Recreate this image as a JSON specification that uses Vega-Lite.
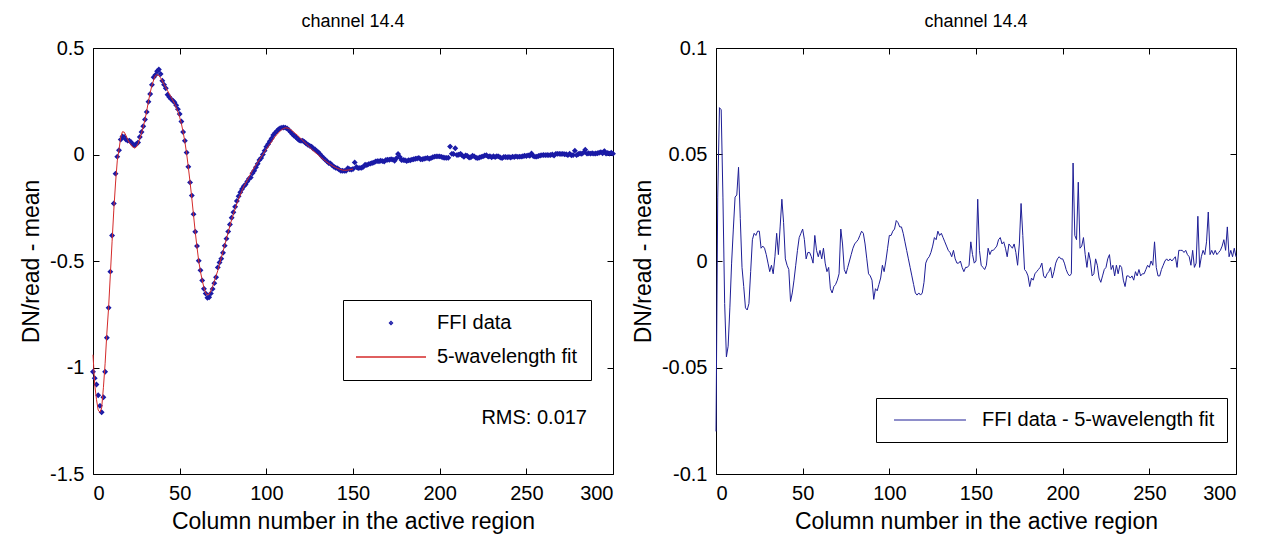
{
  "$schema": "https://vega.github.io/schema/vega-lite/v6.json",
  "autosize": {"type": "pad"},
  "padding": {"left": 20, "top": 12, "right": 5, "bottom": 5},
  "bounds": "flush",
  "spacing": 103,
  "background": "white",
  "resolve": {"scale": {"color": "independent", "shape": "independent"}, "legend": {"color": "independent", "shape": "independent"}},
  "config": {
    "font": "Liberation Sans",
    "view": {"stroke": "black", "strokeWidth": 1},
    "axis": {"domain": false, "grid": false, "tickColor": "black", "tickSize": -6, "tickWidth": 1,
      "labelFontSize": 20, "labelColor": "black", "labelFont": "Liberation Sans", "labelPadding": 15,
      "titleFontSize": 23, "titleFontWeight": "normal", "titleColor": "black", "titleFont": "Liberation Sans"},
    "title": {"fontSize": 18, "fontWeight": "normal", "font": "Liberation Sans", "color": "black", "offset": 7},
    "legend": {"labelFontSize": 20, "labelFont": "Liberation Sans", "labelColor": "black", "strokeColor": "black", "fillColor": "white", "labelLimit": 400, "cornerRadius": 0}
  },
  "datasets": {
    "cols": [
      {"c":0,"dn":-1.02,"fit":-0.94,"r":-0.08},
      {"c":1,"dn":-1.05,"fit":-1.08,"r":0.03},
      {"c":2,"dn":-1.08,"fit":-1.15,"r":0.072},
      {"c":3,"dn":-1.13,"fit":-1.2,"r":0.071},
      {"c":4,"dn":-1.18,"fit":-1.21,"r":0.03},
      {"c":5,"dn":-1.21,"fit":-1.19,"r":-0.02},
      {"c":6,"dn":-1.14,"fit":-1.095,"r":-0.045},
      {"c":7,"dn":-1.02,"fit":-0.98,"r":-0.04},
      {"c":8,"dn":-0.86,"fit":-0.838,"r":-0.022},
      {"c":9,"dn":-0.72,"fit":-0.719,"r":-0.001},
      {"c":10,"dn":-0.55,"fit":-0.565,"r":0.015},
      {"c":11,"dn":-0.38,"fit":-0.41,"r":0.03},
      {"c":12,"dn":-0.23,"fit":-0.261,"r":0.031},
      {"c":13,"dn":-0.09,"fit":-0.134,"r":0.044},
      {"c":14,"dn":-0.01,"fit":-0.03,"r":0.02},
      {"c":15,"dn":0.02,"fit":0.023,"r":-0.003},
      {"c":16,"dn":0.07,"fit":0.082,"r":-0.012},
      {"c":17,"dn":0.085,"fit":0.107,"r":-0.022},
      {"c":18,"dn":0.082,"fit":0.105,"r":-0.023},
      {"c":19,"dn":0.07,"fit":0.09,"r":-0.02},
      {"c":20,"dn":0.065,"fit":0.07,"r":-0.005},
      {"c":21,"dn":0.065,"fit":0.055,"r":0.01},
      {"c":22,"dn":0.058,"fit":0.045,"r":0.013},
      {"c":23,"dn":0.047,"fit":0.035,"r":0.012},
      {"c":24,"dn":0.044,"fit":0.03,"r":0.014},
      {"c":25,"dn":0.049,"fit":0.035,"r":0.014},
      {"c":26,"dn":0.056,"fit":0.05,"r":0.006},
      {"c":27,"dn":0.082,"fit":0.075,"r":0.007},
      {"c":28,"dn":0.106,"fit":0.1,"r":0.006},
      {"c":29,"dn":0.133,"fit":0.13,"r":0.003},
      {"c":30,"dn":0.164,"fit":0.165,"r":-0.001},
      {"c":31,"dn":0.2,"fit":0.205,"r":-0.005},
      {"c":32,"dn":0.248,"fit":0.25,"r":-0.002},
      {"c":33,"dn":0.284,"fit":0.29,"r":-0.006},
      {"c":34,"dn":0.327,"fit":0.325,"r":0.002},
      {"c":35,"dn":0.363,"fit":0.35,"r":0.013},
      {"c":36,"dn":0.373,"fit":0.37,"r":0.003},
      {"c":37,"dn":0.391,"fit":0.375,"r":0.016},
      {"c":38,"dn":0.399,"fit":0.37,"r":0.029},
      {"c":39,"dn":0.378,"fit":0.36,"r":0.018},
      {"c":40,"dn":0.346,"fit":0.345,"r":0.001},
      {"c":41,"dn":0.328,"fit":0.33,"r":-0.002},
      {"c":42,"dn":0.311,"fit":0.315,"r":-0.004},
      {"c":43,"dn":0.281,"fit":0.3,"r":-0.019},
      {"c":44,"dn":0.27,"fit":0.285,"r":-0.015},
      {"c":45,"dn":0.261,"fit":0.27,"r":-0.009},
      {"c":46,"dn":0.253,"fit":0.255,"r":-0.002},
      {"c":47,"dn":0.245,"fit":0.24,"r":0.005},
      {"c":48,"dn":0.231,"fit":0.22,"r":0.011},
      {"c":49,"dn":0.213,"fit":0.2,"r":0.013},
      {"c":50,"dn":0.19,"fit":0.175,"r":0.015},
      {"c":51,"dn":0.155,"fit":0.145,"r":0.01},
      {"c":52,"dn":0.106,"fit":0.105,"r":0.001},
      {"c":53,"dn":0.064,"fit":0.06,"r":0.004},
      {"c":54,"dn":0.009,"fit":0.005,"r":0.004},
      {"c":55,"dn":-0.058,"fit":-0.06,"r":0.002},
      {"c":56,"dn":-0.131,"fit":-0.13,"r":-0.001},
      {"c":57,"dn":-0.193,"fit":-0.205,"r":0.012},
      {"c":58,"dn":-0.28,"fit":-0.285,"r":0.005},
      {"c":59,"dn":-0.363,"fit":-0.365,"r":0.002},
      {"c":60,"dn":-0.43,"fit":-0.435,"r":0.005},
      {"c":61,"dn":-0.499,"fit":-0.5,"r":0.001},
      {"c":62,"dn":-0.544,"fit":-0.55,"r":0.006},
      {"c":63,"dn":-0.591,"fit":-0.59,"r":-0.001},
      {"c":64,"dn":-0.63,"fit":-0.625,"r":-0.005},
      {"c":65,"dn":-0.653,"fit":-0.65,"r":-0.003},
      {"c":66,"dn":-0.673,"fit":-0.66,"r":-0.013},
      {"c":67,"dn":-0.67,"fit":-0.655,"r":-0.015},
      {"c":68,"dn":-0.652,"fit":-0.64,"r":-0.012},
      {"c":69,"dn":-0.631,"fit":-0.62,"r":-0.011},
      {"c":70,"dn":-0.604,"fit":-0.595,"r":-0.009},
      {"c":71,"dn":-0.576,"fit":-0.57,"r":-0.006},
      {"c":72,"dn":-0.53,"fit":-0.545,"r":0.015},
      {"c":73,"dn":-0.507,"fit":-0.515,"r":0.008},
      {"c":74,"dn":-0.489,"fit":-0.485,"r":-0.004},
      {"c":75,"dn":-0.461,"fit":-0.455,"r":-0.006},
      {"c":76,"dn":-0.428,"fit":-0.425,"r":-0.003},
      {"c":77,"dn":-0.395,"fit":-0.395,"r":0.0},
      {"c":78,"dn":-0.362,"fit":-0.365,"r":0.003},
      {"c":79,"dn":-0.329,"fit":-0.335,"r":0.006},
      {"c":80,"dn":-0.297,"fit":-0.305,"r":0.008},
      {"c":81,"dn":-0.271,"fit":-0.28,"r":0.009},
      {"c":82,"dn":-0.245,"fit":-0.255,"r":0.01},
      {"c":83,"dn":-0.218,"fit":-0.23,"r":0.012},
      {"c":84,"dn":-0.196,"fit":-0.21,"r":0.014},
      {"c":85,"dn":-0.177,"fit":-0.19,"r":0.013},
      {"c":86,"dn":-0.162,"fit":-0.17,"r":0.008},
      {"c":87,"dn":-0.149,"fit":-0.15,"r":0.001},
      {"c":88,"dn":-0.141,"fit":-0.135,"r":-0.006},
      {"c":89,"dn":-0.127,"fit":-0.12,"r":-0.007},
      {"c":90,"dn":-0.114,"fit":-0.105,"r":-0.009},
      {"c":91,"dn":-0.108,"fit":-0.09,"r":-0.018},
      {"c":92,"dn":-0.088,"fit":-0.075,"r":-0.013},
      {"c":93,"dn":-0.076,"fit":-0.062,"r":-0.014},
      {"c":94,"dn":-0.06,"fit":-0.049,"r":-0.011},
      {"c":95,"dn":-0.044,"fit":-0.036,"r":-0.008},
      {"c":96,"dn":-0.026,"fit":-0.024,"r":-0.002},
      {"c":97,"dn":-0.017,"fit":-0.012,"r":-0.005},
      {"c":98,"dn":0.0,"fit":0.0,"r":0.0},
      {"c":99,"dn":0.018,"fit":0.012,"r":0.006},
      {"c":100,"dn":0.036,"fit":0.024,"r":0.012},
      {"c":101,"dn":0.048,"fit":0.036,"r":0.012},
      {"c":102,"dn":0.062,"fit":0.048,"r":0.014},
      {"c":103,"dn":0.075,"fit":0.06,"r":0.015},
      {"c":104,"dn":0.091,"fit":0.072,"r":0.019},
      {"c":105,"dn":0.101,"fit":0.083,"r":0.018},
      {"c":106,"dn":0.109,"fit":0.093,"r":0.016},
      {"c":107,"dn":0.118,"fit":0.102,"r":0.016},
      {"c":108,"dn":0.123,"fit":0.11,"r":0.013},
      {"c":109,"dn":0.126,"fit":0.117,"r":0.009},
      {"c":110,"dn":0.127,"fit":0.122,"r":0.005},
      {"c":111,"dn":0.126,"fit":0.125,"r":0.001},
      {"c":112,"dn":0.122,"fit":0.125,"r":-0.003},
      {"c":113,"dn":0.115,"fit":0.122,"r":-0.007},
      {"c":114,"dn":0.106,"fit":0.117,"r":-0.011},
      {"c":115,"dn":0.096,"fit":0.111,"r":-0.015},
      {"c":116,"dn":0.088,"fit":0.104,"r":-0.016},
      {"c":117,"dn":0.082,"fit":0.097,"r":-0.015},
      {"c":118,"dn":0.074,"fit":0.09,"r":-0.016},
      {"c":119,"dn":0.067,"fit":0.082,"r":-0.015},
      {"c":120,"dn":0.064,"fit":0.074,"r":-0.01},
      {"c":121,"dn":0.065,"fit":0.066,"r":-0.001},
      {"c":122,"dn":0.059,"fit":0.058,"r":0.001},
      {"c":123,"dn":0.052,"fit":0.05,"r":0.002},
      {"c":124,"dn":0.046,"fit":0.042,"r":0.004},
      {"c":125,"dn":0.041,"fit":0.034,"r":0.007},
      {"c":126,"dn":0.037,"fit":0.026,"r":0.011},
      {"c":127,"dn":0.028,"fit":0.018,"r":0.01},
      {"c":128,"dn":0.025,"fit":0.011,"r":0.014},
      {"c":129,"dn":0.016,"fit":0.004,"r":0.012},
      {"c":130,"dn":0.01,"fit":-0.003,"r":0.013},
      {"c":131,"dn":0.001,"fit":-0.01,"r":0.011},
      {"c":132,"dn":-0.008,"fit":-0.017,"r":0.009},
      {"c":133,"dn":-0.017,"fit":-0.024,"r":0.007},
      {"c":134,"dn":-0.025,"fit":-0.03,"r":0.005},
      {"c":135,"dn":-0.032,"fit":-0.036,"r":0.004},
      {"c":136,"dn":-0.04,"fit":-0.042,"r":0.002},
      {"c":137,"dn":-0.042,"fit":-0.047,"r":0.005},
      {"c":138,"dn":-0.051,"fit":-0.052,"r":0.001},
      {"c":139,"dn":-0.058,"fit":-0.057,"r":-0.001},
      {"c":140,"dn":-0.062,"fit":-0.061,"r":-0.001},
      {"c":141,"dn":-0.065,"fit":-0.065,"r":0.0},
      {"c":142,"dn":-0.071,"fit":-0.068,"r":-0.003},
      {"c":143,"dn":-0.076,"fit":-0.071,"r":-0.005},
      {"c":144,"dn":-0.076,"fit":-0.073,"r":-0.003},
      {"c":145,"dn":-0.077,"fit":-0.074,"r":-0.003},
      {"c":146,"dn":-0.076,"fit":-0.074,"r":-0.002},
      {"c":147,"dn":-0.064,"fit":-0.073,"r":0.009},
      {"c":148,"dn":-0.069,"fit":-0.072,"r":0.003},
      {"c":149,"dn":-0.071,"fit":-0.07,"r":-0.001},
      {"c":150,"dn":-0.068,"fit":-0.068,"r":0.0},
      {"c":151,"dn":-0.037,"r":0.029},
      {"c":152,"dn":-0.059,"r":0.005},
      {"c":153,"dn":-0.064,"r":-0.002},
      {"c":154,"dn":-0.063,"r":-0.003},
      {"c":155,"dn":-0.062,"fit":-0.058,"r":-0.004},
      {"c":156,"dn":-0.058,"r":-0.002},
      {"c":157,"dn":-0.048,"r":0.006},
      {"c":158,"dn":-0.049,"r":0.003},
      {"c":159,"dn":-0.045,"r":0.005},
      {"c":160,"dn":-0.043,"fit":-0.048,"r":0.005},
      {"c":161,"dn":-0.04,"r":0.006},
      {"c":162,"dn":-0.038,"r":0.007},
      {"c":163,"dn":-0.033,"r":0.01},
      {"c":164,"dn":-0.031,"r":0.011},
      {"c":165,"dn":-0.032,"fit":-0.04,"r":0.008},
      {"c":166,"dn":-0.029,"r":0.009},
      {"c":167,"dn":-0.031,"r":0.006},
      {"c":168,"dn":-0.033,"r":0.002},
      {"c":169,"dn":-0.026,"r":0.008},
      {"c":170,"dn":-0.025,"fit":-0.032,"r":0.007},
      {"c":171,"dn":-0.025,"r":0.006},
      {"c":172,"dn":-0.022,"r":0.008},
      {"c":173,"dn":-0.024,"r":0.004},
      {"c":174,"dn":-0.029,"r":-0.002},
      {"c":175,"dn":-0.018,"fit":-0.026,"r":0.008},
      {"c":176,"dn":0.002,"r":0.027},
      {"c":177,"dn":-0.012,"r":0.012},
      {"c":178,"dn":-0.026,"r":-0.004},
      {"c":179,"dn":-0.026,"r":-0.005},
      {"c":180,"dn":-0.027,"fit":-0.02,"r":-0.007},
      {"c":181,"dn":-0.031,"r":-0.012},
      {"c":182,"dn":-0.027,"r":-0.008},
      {"c":183,"dn":-0.027,"r":-0.009},
      {"c":184,"dn":-0.024,"r":-0.006},
      {"c":185,"dn":-0.022,"r":-0.005},
      {"c":186,"dn":-0.02,"r":-0.004},
      {"c":187,"dn":-0.019,"r":-0.003},
      {"c":188,"dn":-0.016,"r":-0.001},
      {"c":189,"dn":-0.022,"r":-0.007},
      {"c":190,"dn":-0.022,"fit":-0.014,"r":-0.008},
      {"c":191,"dn":-0.02,"r":-0.006},
      {"c":192,"dn":-0.018,"r":-0.005},
      {"c":193,"dn":-0.016,"r":-0.003},
      {"c":194,"dn":-0.02,"r":-0.008},
      {"c":195,"dn":-0.017,"r":-0.005},
      {"c":196,"dn":-0.013,"r":-0.001},
      {"c":197,"dn":-0.01,"r":0.001},
      {"c":198,"dn":-0.009,"r":0.002},
      {"c":199,"dn":-0.009,"r":0.001},
      {"c":200,"dn":-0.009,"fit":-0.01,"r":0.001},
      {"c":201,"dn":-0.011,"r":-0.001},
      {"c":202,"dn":-0.014,"r":-0.004},
      {"c":203,"dn":-0.015,"r":-0.006},
      {"c":204,"dn":-0.016,"r":-0.007},
      {"c":205,"dn":-0.015,"r":-0.006},
      {"c":206,"dn":0.037,"r":0.046},
      {"c":207,"dn":0.003,"r":0.012},
      {"c":208,"dn":0.002,"r":0.01},
      {"c":209,"dn":0.029,"r":0.037},
      {"c":210,"dn":-0.002,"fit":-0.008,"r":0.006},
      {"c":211,"dn":-0.001,"r":0.007},
      {"c":212,"dn":0.003,"r":0.011},
      {"c":213,"dn":-0.005,"r":0.003},
      {"c":214,"dn":-0.011,"r":-0.003},
      {"c":215,"dn":-0.004,"r":0.004},
      {"c":216,"dn":-0.007,"r":0.0},
      {"c":217,"dn":-0.014,"r":-0.007},
      {"c":218,"dn":-0.013,"r":-0.006},
      {"c":219,"dn":-0.006,"r":0.001},
      {"c":220,"dn":-0.009,"fit":-0.007,"r":-0.002},
      {"c":221,"dn":-0.015,"r":-0.008},
      {"c":222,"dn":-0.017,"r":-0.01},
      {"c":223,"dn":-0.014,"r":-0.007},
      {"c":224,"dn":-0.011,"r":-0.004},
      {"c":225,"dn":-0.009,"r":-0.003},
      {"c":226,"dn":-0.005,"r":0.001},
      {"c":227,"dn":-0.003,"r":0.003},
      {"c":228,"dn":-0.01,"r":-0.004},
      {"c":229,"dn":-0.008,"r":-0.002},
      {"c":230,"dn":-0.013,"fit":-0.006,"r":-0.007},
      {"c":231,"dn":-0.008,"r":-0.002},
      {"c":232,"dn":-0.012,"r":-0.006},
      {"c":233,"dn":-0.008,"r":-0.002},
      {"c":234,"dn":-0.009,"r":-0.003},
      {"c":235,"dn":-0.014,"r":-0.009},
      {"c":236,"dn":-0.017,"r":-0.012},
      {"c":237,"dn":-0.012,"r":-0.007},
      {"c":238,"dn":-0.012,"r":-0.007},
      {"c":239,"dn":-0.013,"r":-0.008},
      {"c":240,"dn":-0.012,"fit":-0.005,"r":-0.007},
      {"c":241,"dn":-0.014,"r":-0.009},
      {"c":242,"dn":-0.01,"r":-0.005},
      {"c":243,"dn":-0.012,"r":-0.007},
      {"c":244,"dn":-0.009,"r":-0.004},
      {"c":245,"dn":-0.011,"r":-0.007},
      {"c":246,"dn":-0.01,"r":-0.006},
      {"c":247,"dn":-0.01,"r":-0.006},
      {"c":248,"dn":-0.008,"r":-0.004},
      {"c":249,"dn":-0.006,"r":-0.002},
      {"c":250,"dn":-0.007,"fit":-0.004,"r":-0.003},
      {"c":251,"dn":-0.004,"r":0.0},
      {"c":252,"dn":-0.006,"r":-0.002},
      {"c":253,"dn":0.005,"r":0.009},
      {"c":254,"dn":-0.007,"r":-0.003},
      {"c":255,"dn":-0.01,"r":-0.007},
      {"c":256,"dn":-0.01,"r":-0.007},
      {"c":257,"dn":-0.007,"r":-0.004},
      {"c":258,"dn":-0.005,"r":-0.002},
      {"c":259,"dn":-0.003,"r":0.0},
      {"c":260,"dn":-0.002,"fit":-0.003,"r":0.001},
      {"c":261,"dn":-0.003,"r":0.0},
      {"c":262,"dn":-0.002,"r":0.001},
      {"c":263,"dn":-0.003,"r":0.0},
      {"c":264,"dn":-0.002,"r":0.001},
      {"c":265,"dn":0.0,"r":0.002},
      {"c":266,"dn":-0.005,"r":-0.003},
      {"c":267,"dn":0.003,"r":0.005},
      {"c":268,"dn":0.003,"r":0.005},
      {"c":269,"dn":0.003,"r":0.005},
      {"c":270,"dn":0.002,"fit":-0.002,"r":0.004},
      {"c":271,"dn":0.003,"r":0.005},
      {"c":272,"dn":0.001,"r":0.003},
      {"c":273,"dn":0.001,"r":0.002},
      {"c":274,"dn":-0.003,"r":-0.002},
      {"c":275,"dn":0.004,"r":0.005},
      {"c":276,"dn":-0.004,"r":-0.003},
      {"c":277,"dn":-0.002,"r":-0.001},
      {"c":278,"dn":0.018,"r":0.021},
      {"c":279,"dn":-0.003,"r":-0.003},
      {"c":280,"dn":0.002,"fit":0.0,"r":0.002},
      {"c":281,"dn":0.005,"r":0.005},
      {"c":282,"dn":0.003,"r":0.003},
      {"c":283,"dn":0.009,"r":0.009},
      {"c":284,"dn":0.022,"r":0.023},
      {"c":285,"dn":0.004,"r":0.003},
      {"c":286,"dn":0.006,"r":0.005},
      {"c":287,"dn":0.004,"r":0.003},
      {"c":288,"dn":0.006,"r":0.005},
      {"c":289,"dn":0.004,"r":0.003},
      {"c":290,"dn":0.005,"fit":0.001,"r":0.004},
      {"c":291,"dn":0.006,"r":0.005},
      {"c":292,"dn":0.008,"r":0.007},
      {"c":293,"dn":0.011,"r":0.01},
      {"c":294,"dn":0.006,"r":0.005},
      {"c":295,"dn":0.016,"r":0.016},
      {"c":296,"dn":0.004,"r":0.002},
      {"c":297,"dn":0.007,"r":0.005},
      {"c":298,"dn":0.004,"r":0.002},
      {"c":299,"dn":0.008,"r":0.006},
      {"c":300,"dn":0.004,"fit":0.002,"r":0.002}
    ]
  },
  "hconcat": [
    {
      "width": 520,
      "height": 426,
      "title": {"text": "channel 14.4"},
      "data": {"name": "cols"},
      "layer": [
        {
          "mark": {"type": "point", "filled": false, "strokeWidth": 2, "size": 196, "opacity": 1},
          "encoding": {
            "x": {"field": "c", "type": "quantitative", "scale": {"domain": [0, 300], "nice": false},
              "axis": {"orient": "bottom", "values": [0, 50, 100, 150, 200, 250, 300], "title": "Column number in the active region", "titlePadding": 7}},
            "y": {"field": "dn", "type": "quantitative", "scale": {"domain": [-1.5, 0.5], "nice": false},
              "axis": {"orient": "left", "values": [-1.5, -1, -0.5, 0, 0.5], "labelExpr": "'' + datum.value", "title": "DN/read - mean", "titlePadding": 6}},
            "color": {"datum": "FFI data", "type": "nominal",
              "scale": {"domain": ["FFI data", "5-wavelength fit"], "range": ["#1a1aa6", "#d42a2a"]},
              "legend": {"orient": "none", "legendX": 250, "legendY": 252, "title": null, "padding": 13, "rowPadding": 14, "symbolOffset": 25, "labelOffset": 36, "symbolSize": 196, "symbolStrokeWidth": 1.3}},
            "shape": {"datum": "FFI data", "type": "nominal",
              "scale": {"domain": ["FFI data", "5-wavelength fit"], "range": ["M0,-0.22L0.22,0L0,0.22L-0.22,0Z", "M-5,0H5"]},
              "legend": {"orient": "none", "legendX": 250, "legendY": 252, "title": null, "padding": 13, "rowPadding": 14, "symbolOffset": 25, "labelOffset": 36, "symbolSize": 196, "symbolStrokeWidth": 1.3}}
          }
        },
        {
          "mark": {"type": "line", "strokeWidth": 1},
          "encoding": {
            "x": {"field": "c", "type": "quantitative", "axis": {"orient": "top", "values": [0, 50, 100, 150, 200, 250, 300], "labels": false, "title": null}},
            "y": {"field": "fit", "type": "quantitative", "axis": {"orient": "right", "values": [-1.5, -1, -0.5, 0, 0.5], "labels": false, "title": null}},
            "color": {"datum": "5-wavelength fit", "type": "nominal"}
          }
        },
        {
          "data": {"values": [{"label": "RMS: 0.017"}]},
          "mark": {"type": "text", "align": "right", "baseline": "middle", "fontSize": 20, "font": "Liberation Sans", "color": "black"},
          "encoding": {
            "x": {"datum": 285, "type": "quantitative", "axis": null},
            "y": {"datum": -1.237, "type": "quantitative", "axis": null},
            "text": {"field": "label", "type": "nominal"}
          }
        }
      ],
      "resolve": {"axis": {"x": "independent", "y": "independent"}}
    },
    {
      "width": 520,
      "height": 426,
      "title": {"text": "channel 14.4"},
      "data": {"name": "cols"},
      "layer": [
        {
          "mark": {"type": "line", "strokeWidth": 1},
          "encoding": {
            "x": {"field": "c", "type": "quantitative", "scale": {"domain": [0, 300], "nice": false},
              "axis": {"orient": "bottom", "values": [0, 50, 100, 150, 200, 250, 300], "title": "Column number in the active region", "titlePadding": 7}},
            "y": {"field": "r", "type": "quantitative", "scale": {"domain": [-0.1, 0.1], "nice": false},
              "axis": {"orient": "left", "values": [-0.1, -0.05, 0, 0.05, 0.1], "labelExpr": "'' + datum.value", "title": "DN/read - mean", "titlePadding": 6}},
            "color": {"datum": "FFI data - 5-wavelength fit", "type": "nominal",
              "scale": {"domain": ["FFI data - 5-wavelength fit"], "range": ["#1e1e96"]},
              "legend": {"orient": "none", "legendX": 160, "legendY": 350, "title": null, "padding": 12, "symbolType": "M-5.14,0H5.14", "symbolSize": 196, "symbolOffset": 32, "labelOffset": 42, "symbolStrokeWidth": 1}}
          }
        },
        {
          "mark": {"type": "point", "opacity": 0},
          "encoding": {
            "x": {"field": "c", "type": "quantitative", "axis": {"orient": "top", "values": [0, 50, 100, 150, 200, 250, 300], "labels": false, "title": null}},
            "y": {"field": "r", "type": "quantitative", "axis": {"orient": "right", "values": [-0.1, -0.05, 0, 0.05, 0.1], "labels": false, "title": null}}
          }
        }
      ],
      "resolve": {"axis": {"x": "independent", "y": "independent"}}
    }
  ]
}
